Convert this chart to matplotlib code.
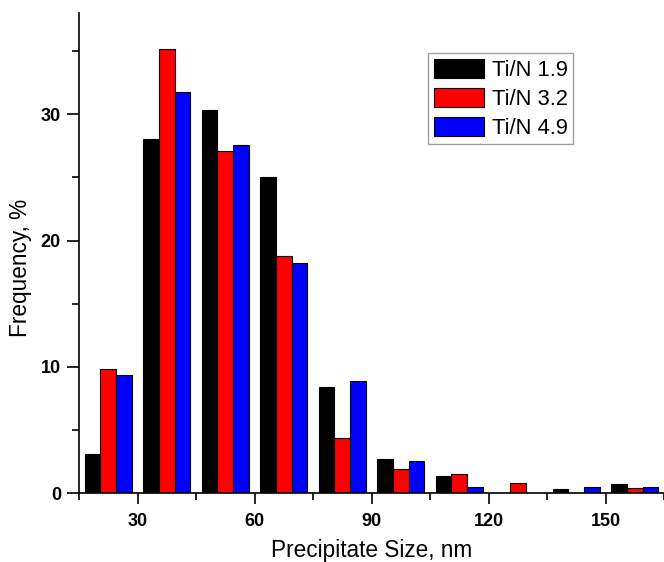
import matplotlib
matplotlib.use("Agg")
import matplotlib.pyplot as plt
import numpy as np
from matplotlib.ticker import MultipleLocator

plt.rcParams['font.family'] = ['Liberation Sans', 'DejaVu Sans']

# bin centres (nm) and frequency (%) for each Ti/N ratio
bin_centers = [22.5, 37.5, 52.5, 67.5, 82.5, 97.5, 112.5, 127.5, 142.5, 157.5]
freq_19 = [3.1, 28.0, 30.3, 25.0, 8.45, 2.7, 1.38, 0.0, 0.36, 0.73]
freq_32 = [9.87, 35.15, 27.1, 18.77, 4.4, 1.91, 1.57, 0.83, 0.0, 0.41]
freq_49 = [9.4, 31.76, 27.57, 18.22, 8.89, 2.6, 0.54, 0.0, 0.54, 0.54]

labels = ['Ti/N 1.9', 'Ti/N 3.2', 'Ti/N 4.9']
colors = ['#000000', '#ff0000', '#0000ff']
series = [freq_19, freq_32, freq_49]

fig = plt.figure(figsize=(6.64, 5.62), dpi=100)
ax = fig.add_axes([0.119, 0.122, 0.881, 0.855])

x = np.array(bin_centers)
width = 4.0
for i, (vals, lab, col) in enumerate(zip(series, labels, colors)):
    ax.bar(x + (i - 1) * width, vals, width=width, color=col,
           edgecolor='black', linewidth=0.8, label=lab)

ax.set_xlim(15, 165)
ax.set_ylim(0, 38)
ax.xaxis.set_major_locator(MultipleLocator(30))
ax.xaxis.set_minor_locator(MultipleLocator(15))
ax.yaxis.set_major_locator(MultipleLocator(10))
ax.yaxis.set_minor_locator(MultipleLocator(5))

ax.spines['top'].set_visible(False)
ax.spines['right'].set_visible(False)
for s in ['left', 'bottom']:
    ax.spines[s].set_linewidth(1.2)

ax.tick_params(which='major', direction='out', length=9, width=1.2,
               labelsize=13, pad=4)
ax.tick_params(which='minor', direction='out', length=5, width=1.2)
ax.tick_params(axis='x', which='major', length=8, pad=6)
for t in ax.get_xticklabels() + ax.get_yticklabels():
    t.set_fontweight('bold')

ax.set_xlabel('Precipitate Size, nm', fontsize=16.3)
ax.set_ylabel('Frequency, %', fontsize=16.3)
ax.xaxis.set_label_coords(0.5, -0.094)
ax.yaxis.set_label_coords(-0.081, 0.47)

leg = ax.legend(loc='upper left', bbox_to_anchor=(0.597, 0.916),
                fontsize=15.8, frameon=True, fancybox=False,
                handlelength=2.3, handleheight=1.0, handletextpad=0.35,
                labelspacing=0.3, borderpad=0.25, borderaxespad=0)
leg.get_frame().set_edgecolor('#888888')
leg.get_frame().set_linewidth(1.0)

fig.savefig('out.png', dpi=100)
